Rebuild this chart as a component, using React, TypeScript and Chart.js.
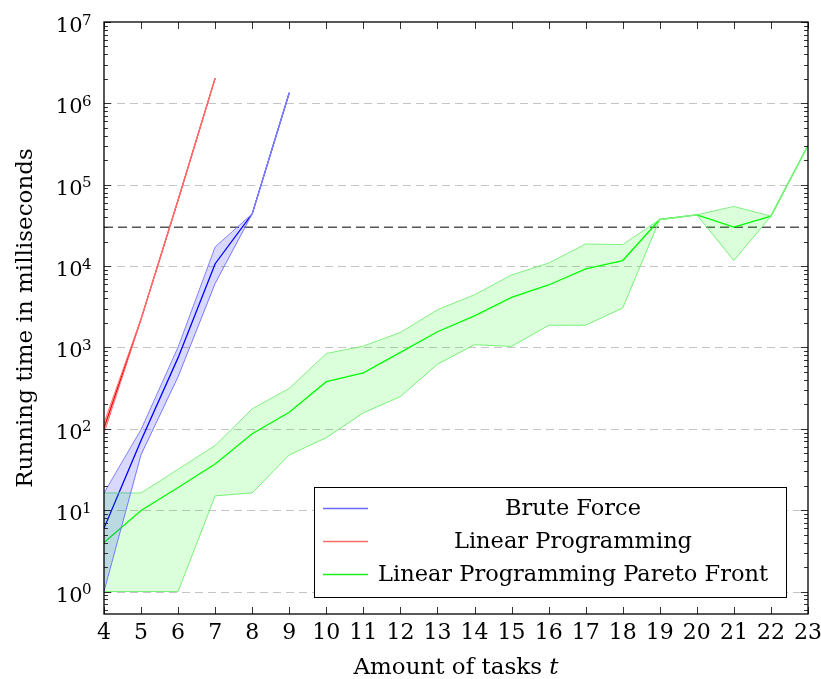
import React, { useEffect, useRef } from "react";
import { Chart, registerables } from "chart.js";

Chart.register(...registerables);

// ---------- data ----------
const TASKS = [4, 5, 6, 7, 8, 9, 10, 11, 12, 13, 14, 15, 16, 17, 18, 19, 20, 21, 22, 23];
const Y_EXPONENTS = [0, 1, 2, 3, 4, 5, 6, 7];

const BF_TASKS = [4, 5, 6, 7, 8, 9];
const BF_MEAN = [6, 72, 750, 10700, 43900, 1350000];
const BF_MAX = [16.3, 98, 1010, 17200, 43900, 1350000];
const BF_MIN = [1, 48, 437, 6120, 43900, 1350000];

const LP_TASKS = [4, 5, 6, 7];
const LP_MEAN = [102, 2230, 64900, 2040000];
const LP_MAX = [118, 2260, 64900, 2040000];
const LP_MIN = [88, 2200, 64900, 2040000];

const PF_MEAN = [4.0, 9.9, 19, 37, 87, 160, 380, 488, 870, 1560, 2450, 4130, 5860, 9230, 11700, 37400, 42700, 30100, 41100, 305000];
const PF_MAX = [16.3, 16.3, 31.8, 62.5, 176, 314, 843, 1040, 1530, 2910, 4450, 7780, 10900, 18700, 18400, 37400, 42700, 54100, 41100, 305000];
const PF_MIN = [1, 1, 1, 15, 16.3, 47.7, 77.8, 157, 249, 623, 1080, 1030, 1870, 1880, 3050, 37400, 42700, 11700, 41100, 305000];

const TIMEOUT = 30000;

const LEGEND_LABELS = ["Brute Force", "Linear Programming", "Linear Programming Pareto Front"];
const LEGEND_COLORS = ["#6b6bff", "#ff6b6b", "#19f019"];

const FONT = '"DejaVu Serif", serif';

const pts = (xs: number[], ys: number[]) => xs.map((x, i) => ({ x, y: ys[i] }));

const SUP: Record<string, string> = {};

const chromePlugin = {
  id: "chrome",
  beforeDatasetsDraw(chart: any) {
    const { ctx, chartArea: a, scales } = chart;
    const y = scales.y;
    ctx.save();
    ctx.strokeStyle = "#c4c4c4";
    ctx.lineWidth = 1;
    ctx.setLineDash([8, 5]);
    Y_EXPONENTS.forEach((e) => {
      if (e === 7) return;
      const py = Math.round(y.getPixelForValue(Math.pow(10, e))) + 0.5;
      ctx.beginPath();
      ctx.moveTo(a.left, py);
      ctx.lineTo(a.right, py);
      ctx.stroke();
    });
    ctx.restore();
  },
  afterDraw(chart: any) {
    const { ctx, chartArea: a, scales } = chart;
    const x = scales.x;
    const y = scales.y;
    ctx.save();
    // inner ticks
    ctx.strokeStyle = "#333";
    ctx.lineWidth = 1;
    ctx.setLineDash([]);
    TASKS.forEach((t) => {
      const px = Math.round(x.getPixelForValue(t)) + 0.5;
      ctx.beginPath();
      ctx.moveTo(px, a.bottom);
      ctx.lineTo(px, a.bottom - 7);
      ctx.moveTo(px, a.top);
      ctx.lineTo(px, a.top + 7);
      ctx.stroke();
    });
    for (let e = -1; e <= 7; e++) {
      for (let m = 1; m <= 9; m++) {
        const v = m * Math.pow(10, e);
        if (v < y.min || v > y.max) continue;
        const py = Math.round(y.getPixelForValue(v)) + 0.5;
        const len = m === 1 ? 7 : 4;
        ctx.beginPath();
        ctx.moveTo(a.left, py);
        ctx.lineTo(a.left + len, py);
        ctx.moveTo(a.right, py);
        ctx.lineTo(a.right - len, py);
        ctx.stroke();
      }
    }
    // border
    ctx.strokeStyle = "#000";
    ctx.lineWidth = 1.3;
    ctx.strokeRect(a.left, a.top, a.right - a.left, a.bottom - a.top);

    // y tick labels 10^e
    ctx.fillStyle = "#000";
    Y_EXPONENTS.forEach((e) => {
      const py = y.getPixelForValue(Math.pow(10, e));
      ctx.textAlign = "right";
      ctx.textBaseline = "alphabetic";
      ctx.font = `21px ${FONT}`;
      ctx.fillText("10", 82.5, py + 10);
      ctx.font = `15px ${FONT}`;
      ctx.fillText(String(e), 91.5, py + 2.5);
    });

    // axis titles
    ctx.font = `23px ${FONT}`;
    ctx.textBaseline = "alphabetic";
    const base = "Amount of tasks ";
    const wBase = ctx.measureText(base).width;
    ctx.font = `italic 23px ${FONT}`;
    const wT = ctx.measureText("t").width;
    const cx = (a.left + a.right) / 2;
    const startX = cx - (wBase + wT) / 2;
    ctx.textAlign = "left";
    ctx.font = `23px ${FONT}`;
    ctx.fillText(base, startX, 674);
    ctx.font = `italic 23px ${FONT}`;
    ctx.fillText("t", startX + wBase, 674);

    ctx.save();
    ctx.translate(32, (a.top + a.bottom) / 2);
    ctx.rotate(-Math.PI / 2);
    ctx.textAlign = "center";
    ctx.font = `23px ${FONT}`;
    ctx.fillText("Running time in milliseconds", 0, 0);
    ctx.restore();

    // legend
    const lx = 314.5, ly = 487.5, lw = 472, lh = 110;
    ctx.fillStyle = "#fff";
    ctx.fillRect(lx, ly, lw, lh);
    ctx.strokeStyle = "#000";
    ctx.lineWidth = 1;
    ctx.strokeRect(lx, ly, lw, lh);
    const rows = [508, 541, 574];
    LEGEND_LABELS.forEach((lab, i) => {
      ctx.strokeStyle = LEGEND_COLORS[i];
      ctx.lineWidth = 1.4;
      ctx.beginPath();
      ctx.moveTo(323, rows[i] + 0.5);
      ctx.lineTo(368, rows[i] + 0.5);
      ctx.stroke();
      ctx.fillStyle = "#000";
      ctx.font = `22.5px ${FONT}`;
      ctx.textAlign = "center";
      ctx.textBaseline = "middle";
      ctx.fillText(lab, 573, rows[i] + 1);
    });
    ctx.restore();
  },
};

export default function App() {
  const ref = useRef<HTMLCanvasElement>(null);
  useEffect(() => {
    if (!ref.current) return;
    const line = (data: any, color: string, width: number, order: number, extra: any = {}) => ({
      data,
      borderColor: color,
      borderWidth: width,
      pointRadius: 0,
      tension: 0,
      fill: false,
      order,
      ...extra,
    });
    const datasets: any[] = [
      line(pts(BF_TASKS, BF_MEAN), "#0000ff", 1.3, 2),
      line(pts(BF_TASKS, BF_MAX), "#8080ff", 1, 1, { fill: { target: 2 }, backgroundColor: "rgba(0,0,255,0.15)" }),
      line(pts(BF_TASKS, BF_MIN), "#8080ff", 1, 1),
      line(pts(LP_TASKS, LP_MEAN), "#ff0000", 1.3, 2),
      line(pts(LP_TASKS, LP_MAX), "#ff7070", 1, 1, { fill: { target: 5 }, backgroundColor: "rgba(255,0,0,0.15)" }),
      line(pts(LP_TASKS, LP_MIN), "#ff7070", 1, 1),
      line(pts(TASKS, PF_MEAN), "#00ff00", 1.3, 2),
      line(pts(TASKS, PF_MAX), "#80f080", 1, 1, { fill: { target: 8 }, backgroundColor: "rgba(0,255,0,0.14)" }),
      line(pts(TASKS, PF_MIN), "#80f080", 1, 1),
      line(pts([TASKS[0], TASKS[TASKS.length - 1]], [TIMEOUT, TIMEOUT]), "#555555", 1.4, 3, { borderDash: [9, 5] }),
    ];
    const chart = new Chart(ref.current, {
      type: "line",
      data: { datasets },
      options: {
        responsive: false,
        devicePixelRatio: 1,
        animation: false,
        parsing: true,
        layout: { padding: { left: 104, right: 13, top: 22, bottom: 0 } },
        plugins: { legend: { display: false }, tooltip: { enabled: false } },
        scales: {
          x: {
            type: "linear",
            min: 4,
            max: 23,
            afterBuildTicks: (s: any) => {
              s.ticks = TASKS.map((t) => ({ value: t }));
            },
            afterFit: (s: any) => {
              s.height = 65;
              s.paddingLeft = 0;
              s.paddingRight = 0;
            },
            ticks: {
              autoSkip: false,
              maxRotation: 0,
              padding: 6,
              color: "#000",
              font: { family: FONT, size: 22 },
              callback: (v: any) => String(v),
            },
            grid: { display: false, drawTicks: false },
            border: { display: false },
          },
          y: {
            type: "logarithmic",
            display: false,
            min: 0.53,
            max: 1e7,
            afterBuildTicks: (s: any) => {
              s.ticks = Y_EXPONENTS.map((e) => ({ value: Math.pow(10, e) }));
            },
          },
        },
      } as any,
      plugins: [chromePlugin],
    });
    return () => chart.destroy();
  }, []);
  return (
    <div style={{ position: "fixed", left: 0, top: 0, width: 821, height: 679, background: "#fff" }}>
      <canvas ref={ref} width={821} height={679} style={{ display: "block", width: 821, height: 679 }} />
    </div>
  );
}
